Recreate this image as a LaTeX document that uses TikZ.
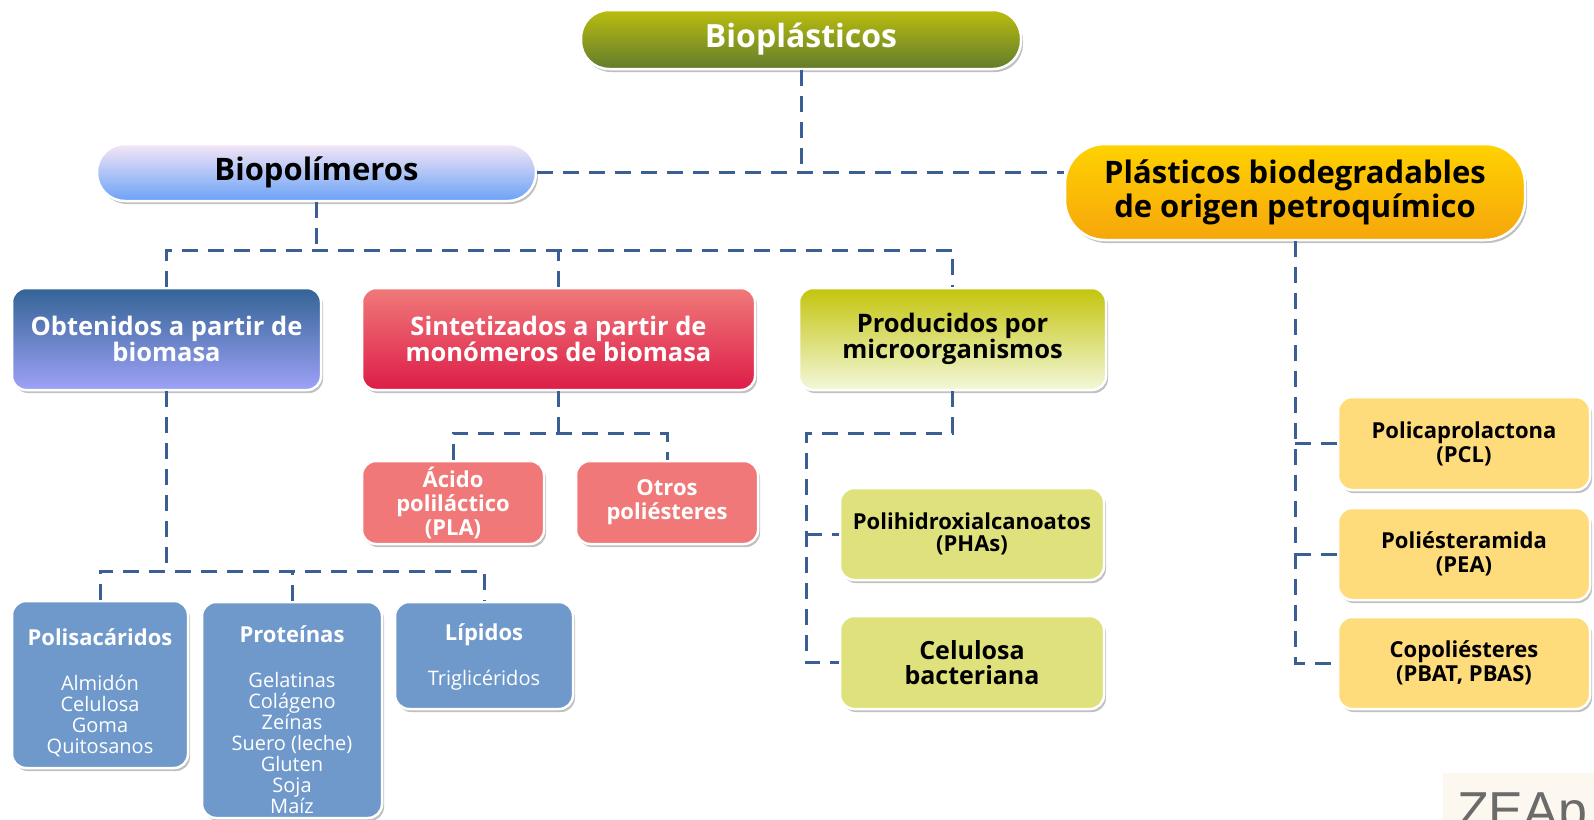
\documentclass[tikz,border=0pt]{standalone}
\usepackage{fontspec}
\setmainfont{Open Sans}
\newfontfamily\logofont{Liberation Sans}
\usepackage{tikz}
\usetikzlibrary{shadows}

\definecolor{linkblue}{HTML}{3B5E95}
\definecolor{oliveT}{HTML}{BABD0E}
\definecolor{oliveB}{HTML}{627C2D}
\definecolor{skyT}{HTML}{F5E6F6}
\definecolor{skyB}{HTML}{6AA2F6}
\definecolor{goldT}{HTML}{FFD200}
\definecolor{goldB}{HTML}{F6A60C}
\definecolor{navyT}{HTML}{336395}
\definecolor{navyB}{HTML}{9EA2F7}
\definecolor{redT}{HTML}{F07A7A}
\definecolor{redB}{HTML}{DD1C47}
\definecolor{limeT}{HTML}{C3C40C}
\definecolor{limeB}{HTML}{F3F8DA}
\definecolor{salmon}{HTML}{F07878}
\definecolor{pear}{HTML}{DFE27C}
\definecolor{sand}{HTML}{FEDB7B}
\definecolor{steel}{HTML}{7099CB}
\definecolor{logobg}{HTML}{FDF8EF}

\begin{document}
\begin{tikzpicture}[
  box/.style={draw=white, line width=2.5pt, align=center, inner sep=0pt,
    drop shadow={shadow xshift=2pt, shadow yshift=-3pt, opacity=.45, fill=black!55}},
  pill/.style={box, rounded corners=28pt, shading=axis, font=\fontsize{32}{36}\selectfont\bfseries},
  card/.style={box, rounded corners=14pt},
  kind/.style={card, shading=axis, font=\fontsize{25.5}{26}\selectfont\bfseries,
    minimum height=102pt},
  leaf/.style={card, font=\fontsize{20}{21}\selectfont, text=white, fill=steel},
  link/.style={draw=linkblue, line width=3pt, dash pattern=on 16pt off 10pt}]
  \useasboundingbox (0pt,0pt) rectangle (1594pt,-819pt);

  % top level
  \draw (801.0pt, -39.5pt)node[pill, top color=oliveT, bottom color=oliveB, text=white,
    minimum width=440pt, minimum height=59pt](bio){Biopl\'asticos};
  \draw (316.5pt, -172.5pt)node[pill, top color=skyT, bottom color=skyB,
    font=\fontsize{31}{36}\selectfont\bfseries,
    minimum width=439pt, minimum height=57pt](biopol){Biopol\'imeros};
  \draw (1295.0pt, -192.0pt)node[pill, rounded corners=40pt, top color=goldT, bottom color=goldB,
    font=\fontsize{31}{34}\selectfont\bfseries,
    minimum width=460pt, minimum height=96pt](petro){Pl\'asticos biodegradables\\de origen petroqu\'imico};

  % biopolimeros
  \draw (166.5pt, -339.0pt)node[kind, top color=navyT, bottom color=navyB, text=white,
    minimum width=309pt](obt){Obtenidos a partir de\\biomasa};
  \draw (558.5pt, -339.0pt)node[kind, top color=redT, bottom color=redB, text=white,
    minimum width=393pt](sint){Sintetizados a partir de\\mon\'omeros de biomasa};
  \draw (952.5pt, -339.0pt)node[kind, top color=limeT, bottom color=limeB,
    minimum width=307pt](prod){Producidos por\\microorganismos};

  \draw (453.0pt, -502.5pt)node[card, fill=salmon, text=white, font=\fontsize{22}{24}\selectfont\bfseries,
    minimum width=182pt, minimum height=83pt](acido){\'Acido\\polil\'actico\\(PLA)};
  \draw (667.0pt, -502.5pt)node[card, fill=salmon, text=white, font=\fontsize{22}{24}\selectfont\bfseries,
    minimum width=182pt, minimum height=83pt](otros){Otros\\poli\'esteres};

  \draw (972.0pt, -534.0pt)node[card, fill=pear, font=\fontsize{22}{22}\selectfont\bfseries,
    minimum width=264pt, minimum height=92pt](phas){Polihidroxialcanoatos\\(PHAs)};
  \draw (972.0pt, -662.5pt)node[card, fill=pear, font=\fontsize{25}{25}\selectfont\bfseries,
    minimum width=264pt, minimum height=93pt](celb){Celulosa\\bacteriana};

  \draw (100.0pt, -684.5pt)node[leaf, minimum width=176pt, minimum height=167pt](polis)
    {\mbox{}\\[13pt]{\fontsize{22}{21}\selectfont\bfseries Polisac\'aridos}\\[24pt]Almid\'on\\Celulosa\\Goma\\Quitosanos};
  \draw (292.0pt, -710.0pt)node[leaf, minimum width=180pt, minimum height=216pt](prot)
    {\mbox{}\\[15pt]{\fontsize{22}{21}\selectfont\bfseries Prote\'inas}\\[24pt]Gelatinas\\Col\'ageno\\Ze\'inas\\Suero (leche)\\Gluten\\Soja\\Ma\'iz};
  \draw (484.0pt, -655.5pt)node[leaf, minimum width=178pt, minimum height=107pt](lip)
    {\mbox{}\\[-1pt]{\fontsize{22}{21}\selectfont\bfseries L\'ipidos}\\[24pt]Triglic\'eridos};

  % petroquimicos
  \draw (1464.0pt, -443.5pt)node[card, fill=sand, font=\fontsize{22}{24}\selectfont\bfseries,
    minimum width=252pt, minimum height=93pt](pcl){Policaprolactona\\(PCL)};
  \draw (1464.0pt, -554.0pt)node[card, fill=sand, font=\fontsize{22}{24}\selectfont\bfseries,
    minimum width=252pt, minimum height=92pt](pea){Poli\'esteramida\\(PEA)};
  \draw (1464.0pt, -663.0pt)node[card, fill=sand, font=\fontsize{22}{24}\selectfont\bfseries,
    minimum width=252pt, minimum height=92pt](copo){Copoli\'esteres\\(PBAT, PBAS)};

  \begin{scope}
    \clip (0pt,0pt) rectangle (1594pt,-819pt);
    \draw (1443.0pt, -773.0pt)node[anchor=north west, fill=logobg, inner xsep=14pt, inner ysep=20pt,
      text=black!58, font=\fontsize{52}{52}\selectfont\logofont](logo){ZEAp};
  \end{scope}

  \coordinate (busT) at (0pt,-171pt);
  \coordinate (busB) at (0pt,-250pt);
  \coordinate (busS) at (0pt,-433pt);
  \coordinate (busO) at (0pt,-571pt);
  \coordinate (railP) at (806pt,-433pt);

  \draw[link] (bio.south) -- (bio.south |- busT);
  \draw[link] (biopol.east) -- (biopol.east -| petro.west);
  \draw[link] (biopol.south) -- (biopol.south |- busB);
  \draw[link] (obt.north) -- (obt.north |- busB) -- (prod.north |- busB) -- (prod.north);
  \draw[link] (sint.north) -- (sint.north |- busB);

  \draw[link] (obt.south) -- (obt.south |- busO);
  \draw[link] (polis.north) -- (polis.north |- busO) -- (lip.north |- busO) -- (lip.north);
  \draw[link] (prot.north) -- (prot.north |- busO);

  \draw[link] (sint.south) -- (sint.south |- busS);
  \draw[link] (acido.north) -- (acido.north |- busS) -- (otros.north |- busS) -- (otros.north);

  \draw[link] (prod.south) -- (prod.south |- busS) -- (railP) -- (railP |- celb.west) -- (celb.west);
  \draw[link] (railP |- phas.west) -- (phas.west);

  \draw[link] (petro.south) -- (petro.south |- copo.west) -- (copo.west);
  \draw[link] (petro.south |- pcl.west) -- (pcl.west);
  \draw[link] (petro.south |- pea.west) -- (pea.west);
\end{tikzpicture}
\end{document}
